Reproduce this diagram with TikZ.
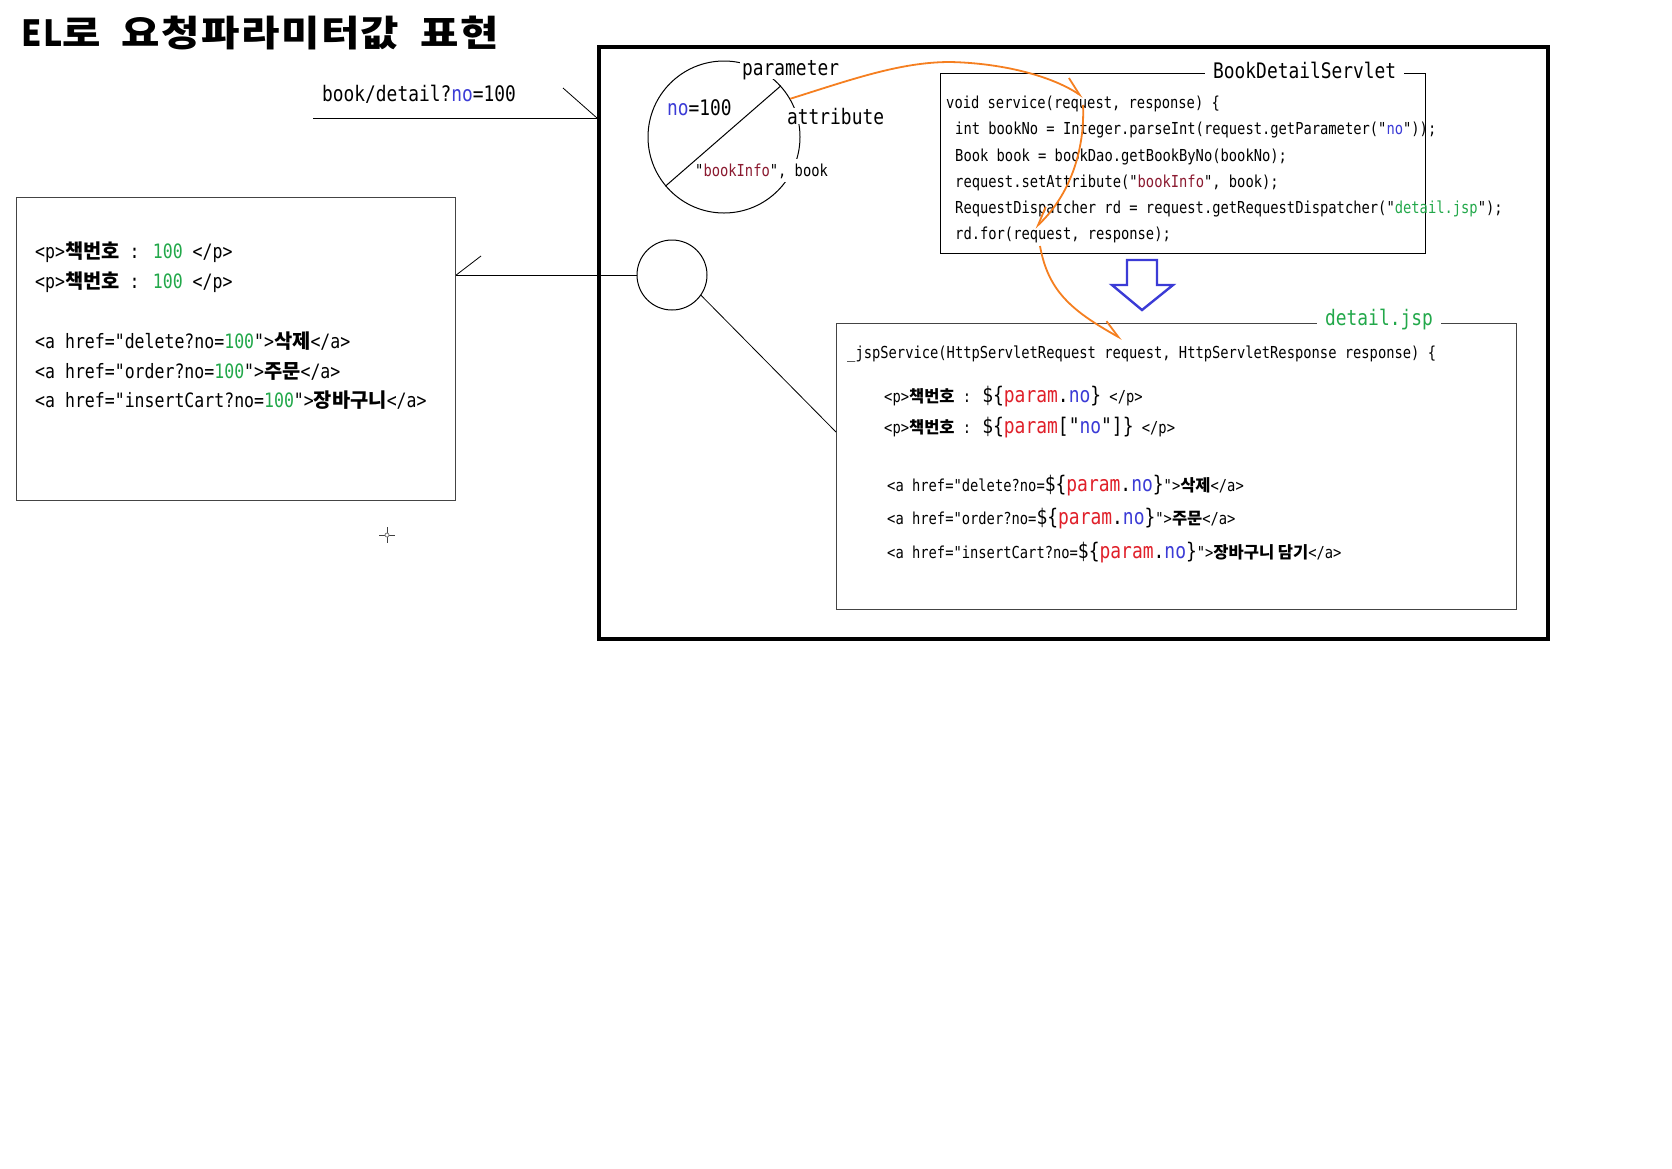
\documentclass[tikz,border=0pt]{standalone}
\usepackage{fontspec}
\setmainfont{Noto Sans CJK KR}
\newfontfamily\kr{Noto Sans CJK KR}
\newfontfamily\titlef{Noto Sans CJK KR}[FakeStretch=1.16,LetterSpace=4]
\newfontfamily\cd{DejaVu Sans Mono}[FakeStretch=0.835,Ligatures=TeXOff]
\usetikzlibrary{arrows.meta}
\definecolor{elgreen}{HTML}{22A84A}
\definecolor{elblue}{HTML}{3B3BD6}
\definecolor{elred}{HTML}{E0202A}
\definecolor{elmaroon}{HTML}{8B1A30}
\definecolor{elorange}{HTML}{F57F20}
\definecolor{boxgray}{HTML}{444444}
\newcommand\K[1]{{\kr\bfseries #1}}
\newcommand\EL[1]{{\fontsize{21.5}{21}\selectfont\$\{#1\}}}
\newcommand\pno{\textcolor{elred}{param}.\textcolor{elblue}{no}}
\begin{document}
\begin{tikzpicture}[x=1pt,y=-1pt,
  codeline/.style={anchor=base west, inner sep=0pt, font=\cd\fontsize{16.5}{18}\selectfont},
  bigline/.style={anchor=base west, inner sep=0pt, font=\cd\fontsize{19.8}{22}\selectfont},
  labeltext/.style={anchor=base west, inner sep=0pt, font=\cd\fontsize{21.4}{24}\selectfont},
  thinbox/.style={draw=boxgray, line width=1.2pt, inner sep=0pt, anchor=north west},
  thinline/.style={draw=black, line width=1pt},
  orangearrow/.style={draw=elorange, line width=1.8pt, -{Straight Barb[harpoon,length=18pt,width=16pt]}},
  orangearrowR/.style={draw=elorange, line width=1.8pt, -{Straight Barb[harpoon,swap,length=18pt,width=16pt]}}
]
\path[use as bounding box, fill=white] (0,0) rectangle (1672,1168);

% title
\node[anchor=base west, inner sep=0pt, font=\titlef\bfseries\fontsize{36}{40}\selectfont] (title) at (21,46) {{\addfontfeature{FakeStretch=0.9}EL}로\hspace{10pt} 요청파라미터값\hspace{10pt} 표현};

% boxes
\node[draw, line width=4pt, minimum width=949pt, minimum height=592pt, inner sep=0pt, anchor=north west] (mainbox) at (597,45) {};
\node[thinbox, minimum width=439pt, minimum height=303pt] (leftbox) at (16,197) {};
\node[thinbox, draw=black, minimum width=485pt, minimum height=180pt] (servlet) at (940,73) {};
\node[thinbox, minimum width=680pt, minimum height=286pt] (detail) at (836,323) {};

% circles
\node[circle, draw, line width=1pt, minimum size=152pt, inner sep=0pt] (c1) at (724,137) {};
\node[circle, draw, line width=1pt, minimum size=70pt, inner sep=0pt] (c2) at (672,275) {};

% box titles
\node[labeltext, fill=white, inner xsep=8pt] (servlettitle) at (1205,78) {BookDetailServlet};
\node[labeltext, fill=white, inner xsep=8pt, text=elgreen] (detailtitle) at (1317,325) {detail.jsp};

% circle labels
\node[labeltext, fill=white, inner xsep=2pt] (param) at (740,75) {parameter};
\node[labeltext, fill=white, inner xsep=2pt] (attr) at (785,124) {attribute};
\node[labeltext] (no100) at (667,115) {\textcolor{elblue}{no}=100};
\node[codeline, fill=white, inner xsep=1pt, inner ysep=4pt] (bookinfo) at (694,176) {"\textcolor{elmaroon}{bookInfo}", book};
\draw[thinline] (c1.42) -- (c1.220);

% URL and request line
\node[labeltext] (url) at (322,101) {book/detail?\textcolor{elblue}{no}=100};
\coordinate (urlstart) at (313,118);
\coordinate (urlend) at (urlstart -| mainbox.west);
\coordinate (urlbarb) at (563,88);
\draw[thinline] (urlstart) -- (urlend);
\draw[thinline, line width=0.8pt] (urlbarb) -- (urlend);

% servlet code
\node[codeline] (s1) at (946,108) {void service(request, response) \{};
\node[codeline] (s2) at (955,134) {int bookNo = Integer.parseInt(request.getParameter("\textcolor{elblue}{no}"));};
\node[codeline] (s3) at (955,161) {Book book = bookDao.getBookByNo(bookNo);};
\node[codeline] (s4) at (955,187) {request.setAttribute("\textcolor{elmaroon}{bookInfo}", book);};
\node[codeline] (s5) at (955,213) {RequestDispatcher rd = request.getRequestDispatcher("\textcolor{elgreen}{detail.jsp}");};
\node[codeline] (s6) at (955,239) {rd.for(request, response);};

% left box html
\node[bigline] (h1) at (35,258) {<p>\K{책번호} : \textcolor{elgreen}{100} </p>};
\node[bigline] (h2) at (35,288) {<p>\K{책번호} : \textcolor{elgreen}{100} </p>};
\node[bigline] (h3) at (35,348) {<a href="delete?no=\textcolor{elgreen}{100}">\K{삭제}</a>};
\node[bigline] (h4) at (35,378) {<a href="order?no=\textcolor{elgreen}{100}">\K{주문}</a>};
\node[bigline] (h5) at (35,407) {<a href="insertCart?no=\textcolor{elgreen}{100}">\K{장바구니}</a>};

% detail.jsp code
\node[codeline] (d1) at (847,358) {\_jspService(HttpServletRequest request, HttpServletResponse response) \{};
\node[codeline] (d2) at (884,402) {<p>\K{책번호} : \EL{\pno} </p>};
\node[codeline] (d3) at (884,433) {<p>\K{책번호} : \EL{\textcolor{elred}{param}["\textcolor{elblue}{no}"]} </p>};
\node[codeline] (d4) at (887,491) {<a href="delete?no=\EL{\pno}">\K{삭제}</a>};
\node[codeline] (d5) at (887,524) {<a href="order?no=\EL{\pno}">\K{주문}</a>};
\node[codeline] (d6) at (887,558) {<a href="insertCart?no=\EL{\pno}">\K{장바구니 담기}</a>};

% connectors of the middle circle
\coordinate (lefthit) at (leftbox.east |- c2.west);
\coordinate (leftbarb) at (481,256);
\draw[thinline] (c2.west) -- (lefthit);
\draw[thinline, line width=0.8pt] (leftbarb) -- (lefthit);
\coordinate (dety) at (0,432);
\coordinate (dethit) at (detail.west |- dety);
\draw[thinline, line width=0.8pt] (c2.-35) -- (dethit);

% orange arrows
\coordinate (reqA) at (1083,97);
\coordinate (reqB0) at (1083,105);
\coordinate (reqB) at (1035,228);
\coordinate (reqC0) at (1040,246);
\coordinate (jspreq) at (1122,339);
\draw[orangearrow] (c1.30) .. controls (850,80) and (900,62) .. (950,62) .. controls (1000,63) and (1050,75) .. (reqA);
\draw[orangearrowR] (reqB0) .. controls (1085,150) and (1070,195) .. (reqB);
\draw[orangearrow] (reqC0) .. controls (1048,290) and (1070,310) .. (jspreq);

% blue hollow arrow
\draw[elblue, line width=2.4pt, line join=miter, fill=white] (1127,260) -- (1157,260) -- (1157,285) -- (1173,285) -- (1142,310) -- (1112,285) -- (1127,285) -- cycle;

% cursor cross
\draw[draw=black!75, line width=1pt] (379,535) -- (395,535) (387,527) -- (387,543);
\draw[draw=black!50, fill=white, line width=0.8pt] (387,535) circle (2pt);
\end{tikzpicture}
\end{document}
